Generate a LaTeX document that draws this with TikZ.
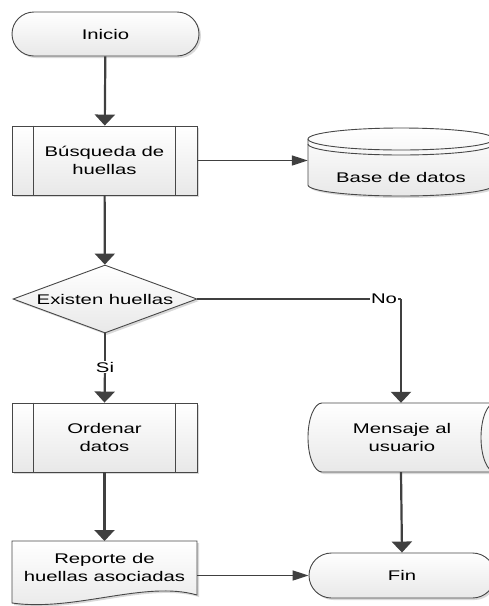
\documentclass[tikz,border=0pt]{standalone}
\usepackage{fontspec}
\setmainfont{Liberation Sans}
\usetikzlibrary{shapes.geometric,shapes.misc,shadows,arrows.meta}

% the whole chart is set with horizontally widened lettering
\newcommand{\wide}[1]{\scalebox{1.45}[1]{#1}}

\begin{document}
\begin{tikzpicture}[x=1pt, y=-1pt,
  every node/.style={font=\fontsize{14}{18}\selectfont, text=black},
  softshade/.style={top color=white, bottom color=black!9},
  outline/.style={draw=black!72, line width=0.9pt},
  shadowed/.style={drop shadow={shadow xshift=2pt, shadow yshift=-2pt, opacity=0.15, fill=black}},
  box/.style={softshade, outline, shadowed},
  term/.style={box, rounded rectangle, minimum width=187pt, minimum height=44pt, inner sep=0pt},
  proc/.style={box, rectangle, minimum width=185pt, minimum height=69pt, inner sep=0pt, align=center},
  dec/.style={box, diamond, aspect=2.7, minimum width=184pt, minimum height=68pt, inner sep=0pt},
  ghost/.style={inner sep=0pt, align=center},
  vflow/.style={draw=black!75, line width=2.2pt, -{Triangle[length=11pt,width=20pt]}},
  hflow/.style={draw=black!75, line width=1.5pt, -{Triangle[length=16pt,width=10pt]}},
  hline/.style={draw=black!75, line width=1.5pt},
  vline/.style={draw=black!75, line width=2.2pt},
  tag/.style={fill=white, inner sep=1pt}
]
\useasboundingbox (0,0) rectangle (489,606);
\fill[white] (0,0) rectangle (489,606);
\clip (0,0) rectangle (489,606);

% start
\node[term] (ini) at (105.5,34) {\wide{Inicio}};

% search subprocess
\node[proc] (bus) at (104.5,160.5) {\wide{Búsqueda de}\\\wide{huellas}};
\draw[outline] ([xshift=22pt]bus.north west) -- ([xshift=22pt]bus.south west);
\draw[outline] ([xshift=-22pt]bus.north east) -- ([xshift=-22pt]bus.south east);

% database cylinder
\node[ghost, minimum width=186pt, minimum height=70pt] (db) at (401,162) {};
\path[box] (308,139) -- (308,185)
  .. controls (308,191.08) and (349.6,196) .. (401,196)
  .. controls (452.4,196) and (494,191.08) .. (494,185)
  -- (494,139)
  .. controls (494,132.92) and (452.4,128) .. (401,128)
  .. controls (349.6,128) and (308,132.92) .. (308,139) -- cycle;
\draw[outline] (308,139)
  .. controls (308,145.08) and (349.6,150) .. (401,150)
  .. controls (452.4,150) and (494,145.08) .. (494,139);
\draw[outline] (308,144)
  .. controls (308,150.08) and (349.6,155) .. (401,155)
  .. controls (452.4,155) and (494,150.08) .. (494,144);
\node[ghost] (dbtext) at (401,177) {\wide{Base de datos}};

% decision
\node[dec] (dec) at (105,299) {};
\node[ghost] (dectext) at (dec.center) {\wide{Existen huellas}};

% sorting subprocess
\node[proc] (ord) at (104.5,437.5) {\wide{Ordenar}\\\wide{datos}};
\draw[outline] ([xshift=22pt]ord.north west) -- ([xshift=22pt]ord.south west);
\draw[outline] ([xshift=-22pt]ord.north east) -- ([xshift=-22pt]ord.south east);

% user message (horizontal drum)
\node[ghost, minimum width=186pt, minimum height=69pt] (msg) at (401,437.5) {};
\path[box] (322,403) -- (509,403)
  .. controls (516.7,403) and (523,418.4) .. (523,437.5)
  .. controls (523,456.6) and (516.7,472) .. (509,472)
  -- (322,472)
  .. controls (314.3,472) and (308,456.6) .. (308,437.5)
  .. controls (308,418.4) and (314.3,403) .. (322,403) -- cycle;
\draw[outline] (495,403)
  .. controls (487.3,403) and (481,418.4) .. (481,437.5)
  .. controls (481,456.6) and (487.3,472) .. (495,472);
\node[ghost] (msgtext) at (402,437) {\wide{Mensaje al}\\\wide{usuario}};

% report document: wavy outline first, then its text on top
\path[box] (12,541) -- (197,541) -- (197,595)
  .. controls (145,580) and (75,612) .. (12,603) -- cycle;
\node[ghost, minimum width=185pt] (rep) at (104.5,567.5) {\wide{Reporte de}\\\wide{huellas asociadas}};

% end
\node[term, minimum width=186pt, minimum height=45pt] (fin) at (402,575.5) {\wide{Fin}};

% connectors
\draw[vflow] (ini) -- (bus);
\draw[hflow] (bus.east) -- (bus.east -| db.west);
\draw[vflow] (bus) -- (dec);
\draw[vline] (dec.south) -- (105,367);
\draw[vflow] (105,367) -- (ord.north);
\node[tag] (si) at (105,367) {\wide{Si}};
\draw[hline] (dec.east) -- (dec.east -| msg.north);
\draw[vflow] (dec.east -| msg.north) -- (msg.north);
\node[tag] (no) at (384,299) {\wide{No}};
\draw[vflow] (ord) -- (rep.north |- 0,541);
\draw[vflow] (msg.south) -- (fin.north);
\draw[hflow] (rep.east |- fin.west) -- (fin.west);
\end{tikzpicture}
\end{document}
